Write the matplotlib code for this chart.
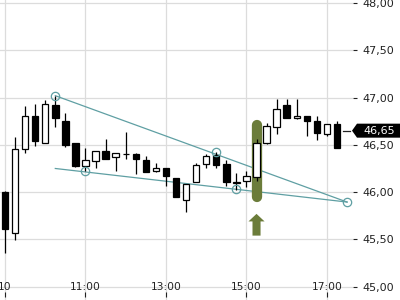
import matplotlib
matplotlib.use("Agg")
import matplotlib.pyplot as plt
from matplotlib.patches import Rectangle, Polygon
from matplotlib.ticker import FuncFormatter, FixedLocator

# ---- data (15-minute candles, index 0 = first bar of the day) ----
opens  = [46.00, 45.57, 46.46, 46.80, 46.52, 46.92, 46.75, 46.52, 46.28, 46.33,
          46.43, 46.37, 46.40, 46.40, 46.34, 46.22, 46.26, 46.15, 45.92, 46.11,
          46.30, 46.39, 46.30, 46.10, 46.12, 46.16, 46.52, 46.69, 46.92, 46.78,
          46.81, 46.75, 46.62, 46.72]
highs  = [46.01, 46.58, 46.91, 46.93, 46.97, 47.02, 46.84, 46.52, 46.47, 46.44,
          46.56, 46.41, 46.64, 46.41, 46.38, 46.31, 46.26, 46.15, 46.09, 46.31,
          46.40, 46.42, 46.34, 46.20, 46.22, 46.56, 46.73, 46.98, 46.98, 46.98,
          46.81, 46.80, 46.72, 46.75]
lows   = [45.36, 45.49, 46.41, 46.49, 46.52, 46.69, 46.48, 46.27, 46.22, 46.25,
          46.35, 46.22, 46.35, 46.19, 46.21, 46.21, 46.07, 45.95, 45.79, 46.11,
          46.26, 46.26, 46.06, 46.02, 46.05, 46.12, 46.51, 46.61, 46.78, 46.77,
          46.59, 46.55, 46.59, 46.47]
closes = [45.61, 46.46, 46.81, 46.54, 46.93, 46.78, 46.50, 46.28, 46.34, 46.43,
          46.35, 46.41, 46.405, 46.35, 46.21, 46.25, 46.17, 45.95, 46.09, 46.29,
          46.38, 46.29, 46.11, 46.105, 46.17, 46.52, 46.70, 46.88, 46.78, 46.81,
          46.75, 46.63, 46.72, 46.47]

tick_pos = [0, 8, 16, 24, 32]
tick_labels = ["10", "11:00", "13:00", "15:00", "17:00"]
y_ticks = [45.0, 45.5, 46.0, 46.5, 47.0, 47.5, 48.0]

# trend lines: (x0, y0, x1, y1)
upper_line = [5, 47.02, 34, 45.895]
lower_line = [5, 46.25, 34, 45.895]
pivot_x = [5, 8, 21, 23, 34]
pivot_y = [47.02, 46.22, 46.42, 46.03, 45.895]

signal_bar = 25
signal_top = 46.71
signal_bottom = 45.95
arrow_bottom = 45.54
arrow_top = 45.77

last_price = 46.65
last_price_text = "46,65"

# ---- styling ----
teal = "#5f9fa3"
olive = "#6b7c3a"
text_col = "#222222"
grid_col = "#dcdcdc"

W, H = 400, 300
fig = plt.figure(figsize=(4, 3), dpi=100)
ax_right_px = 352.5
ax = fig.add_axes([0, 0, ax_right_px / W, 1])
ymin, ymax = 44.859, 48.032
ax.set_ylim(ymin, ymax)
ax.set_xlim(-0.497, 34.54)

for s in ax.spines.values():
    s.set_visible(False)

# grid
ax.xaxis.set_major_locator(FixedLocator(tick_pos))
ax.set_xticklabels([])
ax.tick_params(axis="x", length=0)
ax.set_yticks(y_ticks)
ax.yaxis.tick_right()
ax.yaxis.set_major_formatter(FuncFormatter(lambda v, p: f"{v:.2f}".replace(".", ",")))
ax.tick_params(axis="y", direction="out", length=3.0, width=0.8, color=text_col,
               pad=4.3, labelsize=8, labelcolor=text_col)
ax.grid(True, color=grid_col, linewidth=0.9, zorder=0)
ax.set_axisbelow(True)

# x labels inside plot area and small ticks
for p, lab in zip(tick_pos, tick_labels):
    ax.text(p, 45.0, lab, ha="center", va="center", fontsize=7.7, color=text_col, zorder=1)
ax.vlines(tick_pos, (H - 297) / H, (H - 291.7) / H, transform=ax.get_xaxis_transform(),
          colors=text_col, linewidth=0.8)

# trend lines
ax.plot([upper_line[0], upper_line[2]], [upper_line[1], upper_line[3]], color=teal, lw=0.9, zorder=2)
ax.plot([lower_line[0], lower_line[2]], [lower_line[1], lower_line[3]], color=teal, lw=0.9, zorder=2)
ax.plot(pivot_x, pivot_y, linestyle="none", marker="o", markersize=6.0, markerfacecolor="none",
        markeredgecolor=teal, markeredgewidth=0.9, zorder=5)

# signal highlight
ax.plot([signal_bar, signal_bar], [signal_bottom, signal_top], color=olive, lw=7.4,
        solid_capstyle="round", zorder=2.5)
ax.arrow(signal_bar, arrow_bottom, 0, arrow_top - arrow_bottom, width=0.8, head_width=1.6,
         head_length=0.08, length_includes_head=True, color=olive, lw=0, zorder=3)

# candles
bw = 0.64
for i, (o, h, l, c) in enumerate(zip(opens, highs, lows, closes)):
    ax.vlines(i, l, h, colors="black", linewidth=0.9, zorder=3)
    up = c >= o
    body_low = min(o, c)
    body_h = max(abs(c - o), 0.004)
    ax.add_patch(Rectangle((i - bw / 2, body_low), bw, body_h,
                           facecolor="white" if up else "black", edgecolor="black",
                           linewidth=0.9, zorder=4))

# last price marker
yf = (last_price - ymin) / (ymax - ymin)
hh = 7.0 / H
poly = Polygon([(352.0 / W, yf), (357.0 / W, yf + hh), (1.0, yf + hh), (1.0, yf - hh), (357.0 / W, yf - hh)],
               closed=True, transform=fig.transFigure, facecolor="black", edgecolor="none", zorder=10)
fig.add_artist(poly)
fig.text(363.0 / W, yf, last_price_text, color="white", fontsize=8, ha="left", va="center", zorder=11)
fig.add_artist(plt.Line2D([343.3 / W, 350.0 / W], [yf, yf], transform=fig.transFigure,
                          color=text_col, linewidth=0.9))

fig.savefig("out.png", dpi=100)
